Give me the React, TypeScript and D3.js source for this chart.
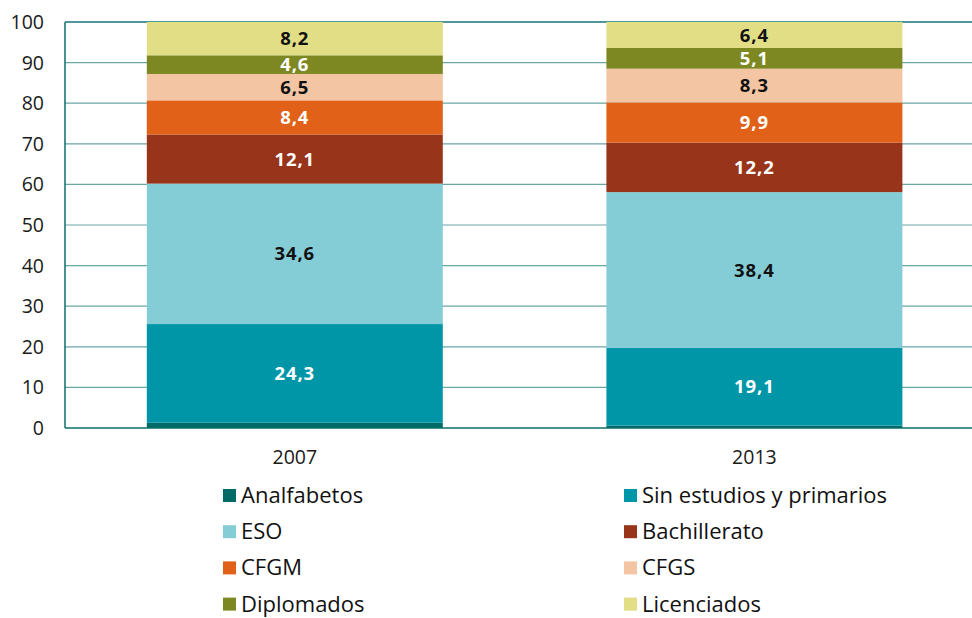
import { useEffect, useRef } from 'react';
import * as d3 from 'd3';

const years = ['2007', '2013'];
const levels = [
  'Analfabetos',
  'Sin estudios y primarios',
  'ESO',
  'Bachillerato',
  'CFGM',
  'CFGS',
  'Diplomados',
  'Licenciados',
];
// porcentaje por nivel, en el mismo orden que levels
const values2007 = [1.3, 24.3, 34.6, 12.1, 8.4, 6.5, 4.6, 8.2];
const values2013 = [0.6, 19.1, 38.4, 12.2, 9.9, 8.3, 5.1, 6.4];
const yTicks = [0, 10, 20, 30, 40, 50, 60, 70, 80, 90, 100];

const colors = ['#006a66', '#0096a8', '#85cdd6', '#98341a', '#e06117', '#f3c5a3', '#7e8823', '#e1de86'];
const labelColors = [null, '#ffffff', '#111111', '#ffffff', '#ffffff', '#111111', '#ffffff', '#111111'];

const FONT = '"Open Sans", "Noto Sans", sans-serif';

const App = () => {
  const svgRef = useRef<SVGSVGElement>(null);

  useEffect(() => {
    if (!svgRef.current) return;
    const width = 972;
    const height = 618;
    const margin = { left: 65, top: 22, bottom: 190 };
    const step = 459.6;

    const svg = d3.select(svgRef.current);
    svg.selectAll('*').remove();

    const rows = years.map((year, i) => {
      const vals = i === 0 ? values2007 : values2013;
      const row: any = { year };
      levels.forEach((l, j) => (row[l] = vals[j]));
      return row;
    });

    const x = d3.scaleBand()
      .domain(years)
      .range([margin.left, margin.left + step * years.length])
      .paddingInner(0.356)
      .paddingOuter(0.178);

    const y = d3.scaleLinear()
      .domain([0, 100])
      .range([height - margin.bottom, margin.top]);

    // rejilla
    svg.append('g')
      .selectAll('line')
      .data(yTicks.slice(1, -1))
      .enter()
      .append('line')
      .attr('x1', margin.left)
      .attr('x2', width)
      .attr('y1', d => y(d))
      .attr('y2', d => y(d))
      .attr('stroke', '#6aa6a3')
      .attr('stroke-width', 1.2);

    svg.append('line')
      .attr('x1', margin.left).attr('x2', width)
      .attr('y1', y(100)).attr('y2', y(100))
      .attr('stroke', '#16757a').attr('stroke-width', 1.5);

    const series = d3.stack().keys(levels)(rows);

    const groups = svg.append('g')
      .selectAll('g')
      .data(series)
      .enter()
      .append('g')
      .attr('fill', (_, i) => colors[i]);

    groups.selectAll('rect')
      .data(d => d)
      .enter()
      .append('rect')
      .attr('x', d => x(d.data.year) as number)
      .attr('width', x.bandwidth())
      .attr('y', d => y(d[1]))
      .attr('height', d => y(d[0]) - y(d[1]));

    // etiquetas de valores
    series.forEach((s, i) => {
      if (!labelColors[i]) return;
      svg.append('g')
        .selectAll('text')
        .data(s)
        .enter()
        .append('text')
        .attr('x', d => (x(d.data.year) as number) + x.bandwidth() / 2)
        .attr('y', d => (y(d[0]) + y(d[1])) / 2)
        .attr('dy', '0.36em')
        .attr('text-anchor', 'middle')
        .style('font-family', FONT)
        .style('font-size', '18.5px')
        .style('font-weight', 'bold')
        .style('letter-spacing', '0.9px')
        .style('fill', labelColors[i] as string)
        .text(d => String((d[1] - d[0]).toFixed(1)).replace('.', ','));
    });

    // ejes
    svg.append('line')
      .attr('x1', margin.left).attr('x2', margin.left)
      .attr('y1', y(100)).attr('y2', y(0))
      .attr('stroke', '#0b6e6e').attr('stroke-width', 1.5);
    svg.append('line')
      .attr('x1', margin.left).attr('x2', width)
      .attr('y1', y(0)).attr('y2', y(0))
      .attr('stroke', '#0b6e6e').attr('stroke-width', 1.5);

    svg.append('g')
      .selectAll('text')
      .data(yTicks)
      .enter()
      .append('text')
      .attr('x', 44)
      .attr('y', d => y(d))
      .attr('dy', '0.36em')
      .attr('text-anchor', 'end')
      .style('font-family', FONT)
      .style('font-size', '19.5px')
      .style('fill', '#1a1a1a')
      .text(d => d);

    svg.append('g')
      .selectAll('text')
      .data(years)
      .enter()
      .append('text')
      .attr('x', d => (x(d) as number) + x.bandwidth() / 2)
      .attr('y', 464)
      .attr('text-anchor', 'middle')
      .style('font-family', FONT)
      .style('font-size', '19.5px')
      .style('fill', '#1a1a1a')
      .text(d => d);

    // leyenda
    const legend = svg.append('g')
      .selectAll('g')
      .data(levels)
      .enter()
      .append('g')
      .attr('transform', (_, i) => `translate(${i % 2 === 0 ? 223 : 624},${503 + Math.floor(i / 2) * 36.2})`);

    legend.append('rect')
      .attr('x', 0)
      .attr('y', -14)
      .attr('width', 13)
      .attr('height', 13)
      .attr('fill', (_, i) => colors[i]);

    legend.append('text')
      .attr('x', 18)
      .attr('y', 0)
      .style('font-family', FONT)
      .style('font-size', '22px')
      .style('fill', '#111111')
      .text(d => d);
  }, []);

  return (
    <svg
      ref={svgRef}
      width={972}
      height={618}
      style={{ position: 'absolute', left: 0, top: 0, background: '#ffffff' }}
    />
  );
};

export default App;
